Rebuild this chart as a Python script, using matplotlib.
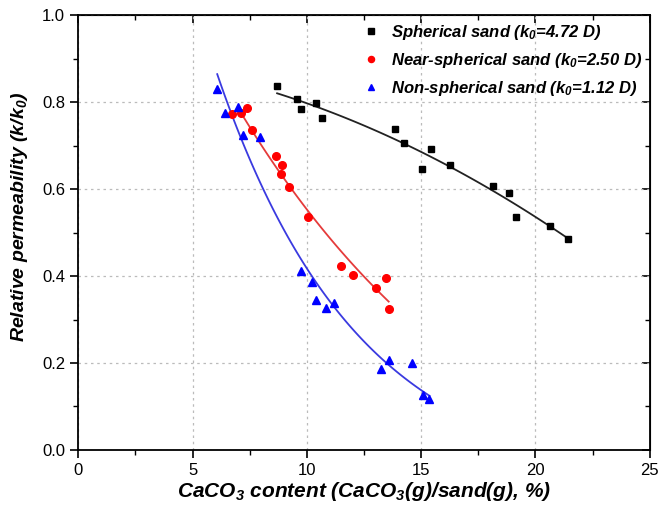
import numpy as np
import matplotlib
matplotlib.use('Agg')
import matplotlib.pyplot as plt
from matplotlib.ticker import MultipleLocator

plt.rcParams['font.family'] = ['Liberation Sans', 'DejaVu Sans']
plt.rcParams['mathtext.fontset'] = 'custom'
plt.rcParams['mathtext.rm'] = 'Liberation Sans:bold:italic'
plt.rcParams['mathtext.it'] = 'Liberation Sans:bold:italic'
plt.rcParams['mathtext.bf'] = 'Liberation Sans:bold:italic'

# Spherical sand
x_sph = [8.70, 9.58, 9.76, 10.39, 10.68, 13.85, 14.26, 15.44, 15.04, 16.25,
         18.16, 18.85, 19.15, 20.65, 21.44]
y_sph = [0.838, 0.807, 0.784, 0.798, 0.763, 0.738, 0.706, 0.692, 0.647, 0.656,
         0.606, 0.592, 0.535, 0.516, 0.485]

# Near-spherical sand
x_near = [6.71, 7.12, 7.39, 7.62, 8.65, 8.92, 8.86, 9.20, 10.07, 11.48,
          12.01, 13.04, 13.45, 13.58]
y_near = [0.773, 0.775, 0.786, 0.735, 0.677, 0.656, 0.634, 0.605, 0.535, 0.423,
          0.402, 0.373, 0.396, 0.325]

# Non-spherical sand
x_non = [6.08, 6.42, 7.01, 7.20, 7.93, 9.73, 10.24, 10.42, 10.86, 11.20,
         13.26, 13.58, 14.58, 15.06, 15.36]
y_non = [0.830, 0.775, 0.788, 0.725, 0.719, 0.412, 0.387, 0.345, 0.326, 0.339,
         0.187, 0.207, 0.200, 0.127, 0.117]

# x range covered by each fitted curve
fit_start = [8.70, 7.12, 6.08]
fit_end = [21.44, 13.58, 15.36]

labels = ['Spherical sand (k$_0$=4.72 D)',
          'Near-spherical sand (k$_0$=2.50 D)',
          'Non-spherical sand (k$_0$=1.12 D)']


def exp_fit(xs, ys):
    # y = y0 + A*exp(b*x), y0 found by a simple scan
    best = None
    for y0 in np.linspace(ys.min() - 2.0, ys.min() - 0.002, 800):
        b, lna = np.polyfit(xs, np.log(ys - y0), 1)
        err = np.sum((y0 + np.exp(lna + b * xs) - ys) ** 2)
        if best is None or err < best[0]:
            best = (err, y0, lna, b)
    _, y0, lna, b = best
    return lambda x: y0 + np.exp(lna + b * x)


fig = plt.figure(figsize=(6.63, 5.05), dpi=100)
ax = fig.add_axes([0.118, 0.109, 0.862, 0.861])

series = [(x_sph, y_sph, 's', 'black', '#222222', 5.0, 'poly'),
          (x_near, y_near, 'o', 'red', '#e53b3b', 5.5, 'exp'),
          (x_non, y_non, '^', 'blue', '#3a3ae0', 6.0, 'exp')]

for i, ((xs, ys, mk, col, lcol, ms, kind), lab) in enumerate(zip(series, labels)):
    xs = np.array(xs)
    ys = np.array(ys)
    xf = np.linspace(fit_start[i], fit_end[i], 100)
    if kind == 'poly':
        c = np.polyfit(xs, ys, 2)
        yf = np.polyval(c, xf)
    else:
        yf = exp_fit(xs, ys)(xf)
    ax.plot(xf, yf, color=lcol, lw=1.3, zorder=2)
    ax.plot(xs, ys, mk, color=col, ms=ms, ls='none', label=lab, zorder=3)

ax.set_xlim(0, 25)
ax.set_ylim(0, 1.0)
ax.xaxis.set_major_locator(MultipleLocator(5))
ax.xaxis.set_minor_locator(MultipleLocator(2.5))
ax.yaxis.set_major_locator(MultipleLocator(0.2))
ax.yaxis.set_minor_locator(MultipleLocator(0.1))
ax.yaxis.set_major_formatter(plt.FormatStrFormatter('%.1f'))

ax.grid(True, which='major', ls=(0, (2, 3)), color='#bbbbbb', lw=0.9)

ax.tick_params(axis='both', which='major', direction='out', length=6, width=1.2,
               labelsize=12, top=False, right=False)
ax.tick_params(axis='both', which='minor', direction='out', length=3.5, width=1.0)
for s in ax.spines.values():
    s.set_linewidth(1.3)

# mirrored inward ticks on top and right
ax2 = ax.secondary_xaxis('top')
ax2.xaxis.set_major_locator(MultipleLocator(5))
ax2.xaxis.set_minor_locator(MultipleLocator(2.5))
ax2.tick_params(which='major', direction='in', length=6, width=1.2, labeltop=False)
ax2.tick_params(which='minor', direction='in', length=3.5, width=1.0)
ay2 = ax.secondary_yaxis('right')
ay2.yaxis.set_major_locator(MultipleLocator(0.2))
ay2.yaxis.set_minor_locator(MultipleLocator(0.1))
ay2.tick_params(which='major', direction='in', length=6, width=1.2, labelright=False)
ay2.tick_params(which='minor', direction='in', length=3.5, width=1.0)

ax.set_xlabel('CaCO$_3$ content (CaCO$_3$(g)/sand(g), %)', fontsize=15,
              fontweight='bold', style='italic', labelpad=1)
ax.set_ylabel('Relative permeability (k/k$_0$)', fontsize=14,
              fontweight='bold', style='italic')
ax.yaxis.set_label_coords(-0.085, 0.535)

leg = ax.legend(loc='upper right', frameon=False,
                prop={'size': 12, 'weight': 'bold', 'style': 'italic'},
                handletextpad=0.6, labelspacing=0.55, borderaxespad=0.05,
                handlelength=1.2, markerscale=0.8)

fig.savefig('out.png', dpi=100)
